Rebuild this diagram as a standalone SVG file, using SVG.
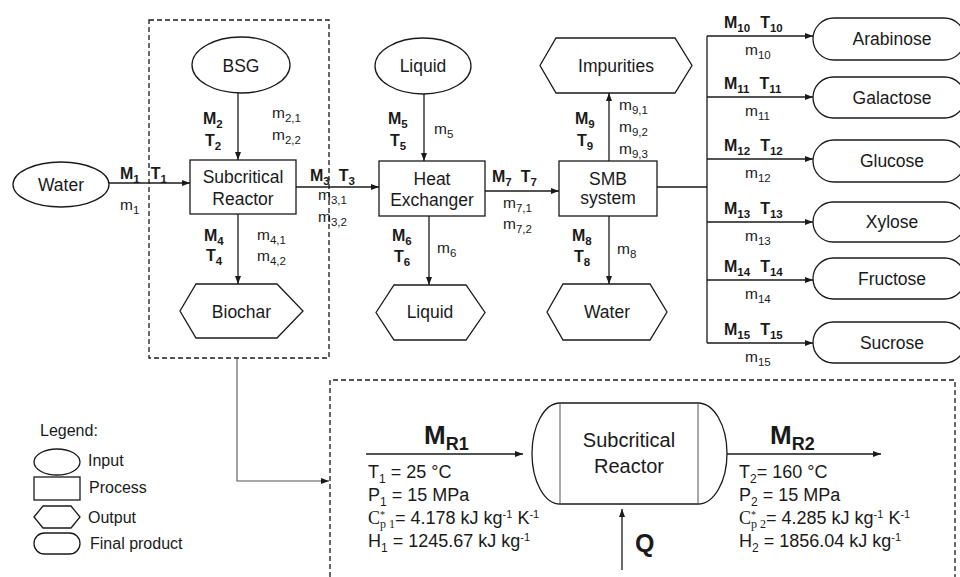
<svg xmlns="http://www.w3.org/2000/svg" width="960" height="577" viewBox="0 0 960 577">
  <style>
    .shape { fill: #fff; stroke: #1a1a1a; stroke-width: 1.3; }
    .line { fill: none; stroke: #1a1a1a; stroke-width: 1.3; }
    .thin { fill: none; stroke: #555; stroke-width: 1.1; }
    .dash { fill: none; stroke: #1a1a1a; stroke-width: 1.3; stroke-dasharray: 5 3; }
    .node { font-family: "Liberation Sans", Arial, sans-serif; font-size: 17.5px; fill: #1a1a1a; text-anchor: middle; }
    .vessel { font-family: "Liberation Sans", Arial, sans-serif; font-size: 20px; fill: #1a1a1a; text-anchor: middle; }
    .lb { font-family: "Liberation Sans", Arial, sans-serif; font-size: 16px; font-weight: bold; fill: #1a1a1a; }
    .lm { font-family: "Liberation Sans", Arial, sans-serif; font-size: 15.5px; fill: #1a1a1a; }
    .s { font-size: 11.5px; }
    .big { font-family: "Liberation Sans", Arial, sans-serif; font-size: 26px; font-weight: bold; fill: #1a1a1a; }
    .bigsub { font-size: 18px; }
    .prop { font-family: "Liberation Sans", Arial, sans-serif; font-size: 18px; fill: #1a1a1a; }
    .ps { font-size: 12px; }
    .sup { font-size: 11px; }
    .serif { font-family: "Liberation Serif", "DejaVu Serif", serif; }
    .star { font-family: "Liberation Serif", "DejaVu Serif", serif; font-size: 10px; }
    .psub { font-family: "Liberation Serif", "DejaVu Serif", serif; font-size: 12px; }
    .leg { font-family: "Liberation Sans", Arial, sans-serif; font-size: 16px; fill: #1a1a1a; }
  </style>
  <defs>
    <marker id="arrow" viewBox="0 0 8 6" refX="8" refY="3" markerWidth="8" markerHeight="6" markerUnits="userSpaceOnUse" orient="auto">
      <path d="M0,0 L8,3 L0,6 z" fill="#1a1a1a"/>
    </marker>
  </defs>

  <!-- process boundary frames -->
  <g id="frames">
    <rect class="dash" x="149" y="20" width="180" height="338"/>
    <path class="dash" d="M330,577 V380 H955 V577"/>
  </g>

  <!-- connectors -->
  <g id="connectors">
    <line class="line" x1="109" y1="183" x2="190" y2="183" marker-end="url(#arrow)"/>
    <line class="line" x1="238" y1="93" x2="238" y2="160" marker-end="url(#arrow)"/>
    <line class="line" x1="296" y1="187" x2="379" y2="187" marker-end="url(#arrow)"/>
    <line class="line" x1="238" y1="214" x2="238" y2="284" marker-end="url(#arrow)"/>
    <line class="line" x1="424" y1="94" x2="424" y2="161" marker-end="url(#arrow)"/>
    <line class="line" x1="429" y1="216" x2="429" y2="285" marker-end="url(#arrow)"/>
    <line class="line" x1="485" y1="191" x2="559" y2="191" marker-end="url(#arrow)"/>
    <line class="line" x1="609" y1="161" x2="609" y2="93" marker-end="url(#arrow)"/>
    <line class="line" x1="609" y1="216" x2="609" y2="284" marker-end="url(#arrow)"/>
    <path class="line" d="M657,187 H707 M707,36 V343"/>
    <line class="line" x1="707" y1="36" x2="813" y2="36" marker-end="url(#arrow)"/>
    <line class="line" x1="707" y1="97" x2="813" y2="97" marker-end="url(#arrow)"/>
    <line class="line" x1="707" y1="159" x2="813" y2="159" marker-end="url(#arrow)"/>
    <line class="line" x1="707" y1="222" x2="813" y2="222" marker-end="url(#arrow)"/>
    <line class="line" x1="707" y1="280" x2="813" y2="280" marker-end="url(#arrow)"/>
    <line class="line" x1="707" y1="343" x2="813" y2="343" marker-end="url(#arrow)"/>
    <path class="thin" d="M237,358 V481 H329" marker-end="url(#arrow)"/>
    <line class="line" x1="366" y1="454" x2="523" y2="454" marker-end="url(#arrow)"/>
    <line class="line" x1="727" y1="454" x2="881" y2="454" marker-end="url(#arrow)"/>
    <line class="line" x1="622" y1="570" x2="622" y2="509" marker-end="url(#arrow)"/>

    <!-- stream labels -->
    <text class="lb" x="120" y="179">M<tspan class="s" dy="4">1</tspan><tspan dx="11" dy="-4">T</tspan><tspan class="s" dy="4">1</tspan></text>
    <text class="lm" x="120" y="210">m<tspan class="s" dy="4">1</tspan></text>

    <text class="lb" x="203" y="124">M<tspan class="s" dy="4">2</tspan></text>
    <text class="lb" x="205" y="146">T<tspan class="s" dy="4">2</tspan></text>
    <text class="lm" x="272" y="118">m<tspan class="s" dy="4">2,1</tspan></text>
    <text class="lm" x="272" y="140">m<tspan class="s" dy="4">2,2</tspan></text>

    <text class="lb" x="310" y="181">M<tspan class="s" dy="4">3</tspan><tspan dx="9" dy="-4">T</tspan><tspan class="s" dy="4">3</tspan></text>
    <text class="lm" x="318" y="200">m<tspan class="s" dy="4">3,1</tspan></text>
    <text class="lm" x="318" y="222">m<tspan class="s" dy="4">3,2</tspan></text>

    <text class="lb" x="204" y="241">M<tspan class="s" dy="4">4</tspan></text>
    <text class="lb" x="206" y="261">T<tspan class="s" dy="4">4</tspan></text>
    <text class="lm" x="257" y="240">m<tspan class="s" dy="4">4,1</tspan></text>
    <text class="lm" x="257" y="261">m<tspan class="s" dy="4">4,2</tspan></text>

    <text class="lb" x="388" y="124">M<tspan class="s" dy="4">5</tspan></text>
    <text class="lb" x="390" y="146">T<tspan class="s" dy="4">5</tspan></text>
    <text class="lm" x="434" y="134">m<tspan class="s" dy="4">5</tspan></text>

    <text class="lb" x="392" y="241">M<tspan class="s" dy="4">6</tspan></text>
    <text class="lb" x="394" y="262">T<tspan class="s" dy="4">6</tspan></text>
    <text class="lm" x="437" y="253">m<tspan class="s" dy="4">6</tspan></text>

    <text class="lb" x="492" y="182">M<tspan class="s" dy="4">7</tspan><tspan dx="9" dy="-4">T</tspan><tspan class="s" dy="4">7</tspan></text>
    <text class="lm" x="503" y="208">m<tspan class="s" dy="4">7,1</tspan></text>
    <text class="lm" x="503" y="229">m<tspan class="s" dy="4">7,2</tspan></text>

    <text class="lb" x="575" y="124">M<tspan class="s" dy="4">9</tspan></text>
    <text class="lb" x="577" y="146">T<tspan class="s" dy="4">9</tspan></text>
    <text class="lm" x="619" y="110">m<tspan class="s" dy="4">9,1</tspan></text>
    <text class="lm" x="619" y="132">m<tspan class="s" dy="4">9,2</tspan></text>
    <text class="lm" x="619" y="154">m<tspan class="s" dy="4">9,3</tspan></text>

    <text class="lb" x="572" y="241">M<tspan class="s" dy="4">8</tspan></text>
    <text class="lb" x="574" y="262">T<tspan class="s" dy="4">8</tspan></text>
    <text class="lm" x="617" y="254">m<tspan class="s" dy="4">8</tspan></text>

    <text class="lb" x="724" y="28">M<tspan class="s" dy="4">10</tspan><tspan dx="10" dy="-4">T</tspan><tspan class="s" dy="4">10</tspan></text>
    <text class="lm" x="745" y="55">m<tspan class="s" dy="4">10</tspan></text>
    <text class="lb" x="724" y="89">M<tspan class="s" dy="4">11</tspan><tspan dx="10" dy="-4">T</tspan><tspan class="s" dy="4">11</tspan></text>
    <text class="lm" x="745" y="116">m<tspan class="s" dy="4">11</tspan></text>
    <text class="lb" x="724" y="151">M<tspan class="s" dy="4">12</tspan><tspan dx="10" dy="-4">T</tspan><tspan class="s" dy="4">12</tspan></text>
    <text class="lm" x="745" y="178">m<tspan class="s" dy="4">12</tspan></text>
    <text class="lb" x="724" y="214">M<tspan class="s" dy="4">13</tspan><tspan dx="10" dy="-4">T</tspan><tspan class="s" dy="4">13</tspan></text>
    <text class="lm" x="745" y="241">m<tspan class="s" dy="4">13</tspan></text>
    <text class="lb" x="724" y="272">M<tspan class="s" dy="4">14</tspan><tspan dx="10" dy="-4">T</tspan><tspan class="s" dy="4">14</tspan></text>
    <text class="lm" x="745" y="299">m<tspan class="s" dy="4">14</tspan></text>
    <text class="lb" x="724" y="335">M<tspan class="s" dy="4">15</tspan><tspan dx="10" dy="-4">T</tspan><tspan class="s" dy="4">15</tspan></text>
    <text class="lm" x="745" y="362">m<tspan class="s" dy="4">15</tspan></text>
  </g>

  <!-- top flowsheet nodes -->
  <g id="water-in">
    <ellipse class="shape" cx="61" cy="184.5" rx="48" ry="22.5"/>
    <text class="node" x="61" y="191">Water</text>
  </g>
  <g id="bsg">
    <ellipse class="shape" cx="241" cy="65" rx="49" ry="28"/>
    <text class="node" x="241" y="72">BSG</text>
  </g>
  <g id="subcritical-reactor">
    <rect class="shape" x="190" y="160" width="106" height="54"/>
    <text class="node" x="243" y="183">Subcritical</text>
    <text class="node" x="243" y="205">Reactor</text>
  </g>
  <g id="biochar">
    <polygon class="shape" points="180,311 196,284 277,284 303,311 277,338 196,338"/>
    <text class="node" x="241.5" y="318">Biochar</text>
  </g>
  <g id="liquid-in">
    <ellipse class="shape" cx="423" cy="66" rx="48" ry="28"/>
    <text class="node" x="423" y="72">Liquid</text>
  </g>
  <g id="heat-exchanger">
    <rect class="shape" x="379" y="161" width="106" height="55"/>
    <text class="node" x="432" y="185">Heat</text>
    <text class="node" x="432" y="206">Exchanger</text>
  </g>
  <g id="liquid-out">
    <polygon class="shape" points="376,312.5 394,285 466,285 485,312.5 466,340 394,340"/>
    <text class="node" x="430" y="318">Liquid</text>
  </g>
  <g id="impurities">
    <polygon class="shape" points="540,65.5 556,38 675,38 692,65.5 675,93 556,93"/>
    <text class="node" x="616" y="72">Impurities</text>
  </g>
  <g id="smb-system">
    <rect class="shape" x="559" y="161" width="98" height="55"/>
    <text class="node" x="608" y="185">SMB</text>
    <text class="node" x="608" y="204">system</text>
  </g>
  <g id="water-out">
    <polygon class="shape" points="547,312 563,284 650,284 667,312 650,340 563,340"/>
    <text class="node" x="607" y="318">Water</text>
  </g>

  <!-- final products -->
  <g id="arabinose">
    <rect class="shape" x="813" y="18" width="152" height="42" rx="21"/>
    <text class="node" x="892" y="45">Arabinose</text>
  </g>
  <g id="galactose">
    <rect class="shape" x="813" y="77" width="152" height="41" rx="20.5"/>
    <text class="node" x="892" y="104">Galactose</text>
  </g>
  <g id="glucose">
    <rect class="shape" x="813" y="140" width="152" height="42" rx="21"/>
    <text class="node" x="892" y="167">Glucose</text>
  </g>
  <g id="xylose">
    <rect class="shape" x="813" y="202" width="152" height="40" rx="20"/>
    <text class="node" x="892" y="228">Xylose</text>
  </g>
  <g id="fructose">
    <rect class="shape" x="813" y="258" width="152" height="41" rx="20.5"/>
    <text class="node" x="892" y="285">Fructose</text>
  </g>
  <g id="sucrose">
    <rect class="shape" x="813" y="322" width="152" height="41" rx="20.5"/>
    <text class="node" x="892" y="349">Sucrose</text>
  </g>

  <!-- legend -->
  <g id="legend">
    <text class="leg" x="40" y="436">Legend:</text>
    <ellipse class="shape" cx="57" cy="462" rx="23" ry="13"/>
    <text class="leg" x="88" y="466">Input</text>
    <rect class="shape" x="34" y="477" width="46" height="23"/>
    <text class="leg" x="89" y="493">Process</text>
    <polygon class="shape" points="34,517 43,506 71,506 80,517 71,528 43,528"/>
    <text class="leg" x="88" y="523">Output</text>
    <rect class="shape" x="34" y="533" width="46" height="21" rx="10.5"/>
    <text class="leg" x="90" y="549">Final product</text>
  </g>

  <!-- reactor balance detail -->
  <g id="reactor-vessel">
    <path class="shape" d="M560,403 H698 A29,50.5 0 0 1 698,504 H560 A28,50.5 0 0 1 560,403 Z"/>
    <path fill="none" stroke="#555" stroke-width="1" d="M560,403 V504 M698,403 V504"/>
    <text class="vessel" x="629" y="447">Subcritical</text>
    <text class="vessel" x="629" y="473">Reactor</text>
  </g>
  <g id="stream-r1">
    <text class="big" x="424" y="444">M<tspan class="bigsub" dy="6">R1</tspan></text>
    <text class="prop" x="368" y="478">T<tspan class="ps" dy="5">1</tspan><tspan dy="-5"> = 25 °C</tspan></text>
    <text class="prop" x="368" y="501">P<tspan class="ps" dy="5">1</tspan><tspan dy="-5"> = 15 MPa</tspan></text>
    <text class="prop" x="368" y="524"><tspan class="serif">C</tspan><tspan class="star" dy="-6">*</tspan><tspan class="psub" dx="-5" dy="10">p 1</tspan><tspan dy="-4">= 4.178 kJ kg</tspan><tspan class="sup" dy="-6">-1</tspan><tspan dy="6"> K</tspan><tspan class="sup" dy="-6">-1</tspan></text>
    <text class="prop" x="368" y="547">H<tspan class="ps" dy="5">1</tspan><tspan dy="-5"> = 1245.67 kJ kg</tspan><tspan class="sup" dy="-6">-1</tspan></text>
  </g>
  <g id="stream-r2">
    <text class="big" x="770" y="444">M<tspan class="bigsub" dy="6">R2</tspan></text>
    <text class="prop" x="739" y="478">T<tspan class="ps" dy="5">2</tspan><tspan dy="-5">= 160 °C</tspan></text>
    <text class="prop" x="739" y="501">P<tspan class="ps" dy="5">2</tspan><tspan dy="-5"> = 15 MPa</tspan></text>
    <text class="prop" x="739" y="524"><tspan class="serif">C</tspan><tspan class="star" dy="-6">*</tspan><tspan class="psub" dx="-5" dy="10">p 2</tspan><tspan dy="-4">= 4.285 kJ kg</tspan><tspan class="sup" dy="-6">-1</tspan><tspan dy="6"> K</tspan><tspan class="sup" dy="-6">-1</tspan></text>
    <text class="prop" x="739" y="547">H<tspan class="ps" dy="5">2</tspan><tspan dy="-5"> = 1856.04 kJ kg</tspan><tspan class="sup" dy="-6">-1</tspan></text>
  </g>
  <g id="heat-input">
    <text class="big" x="635" y="552" style="font-size:25px">Q</text>
  </g>
</svg>
